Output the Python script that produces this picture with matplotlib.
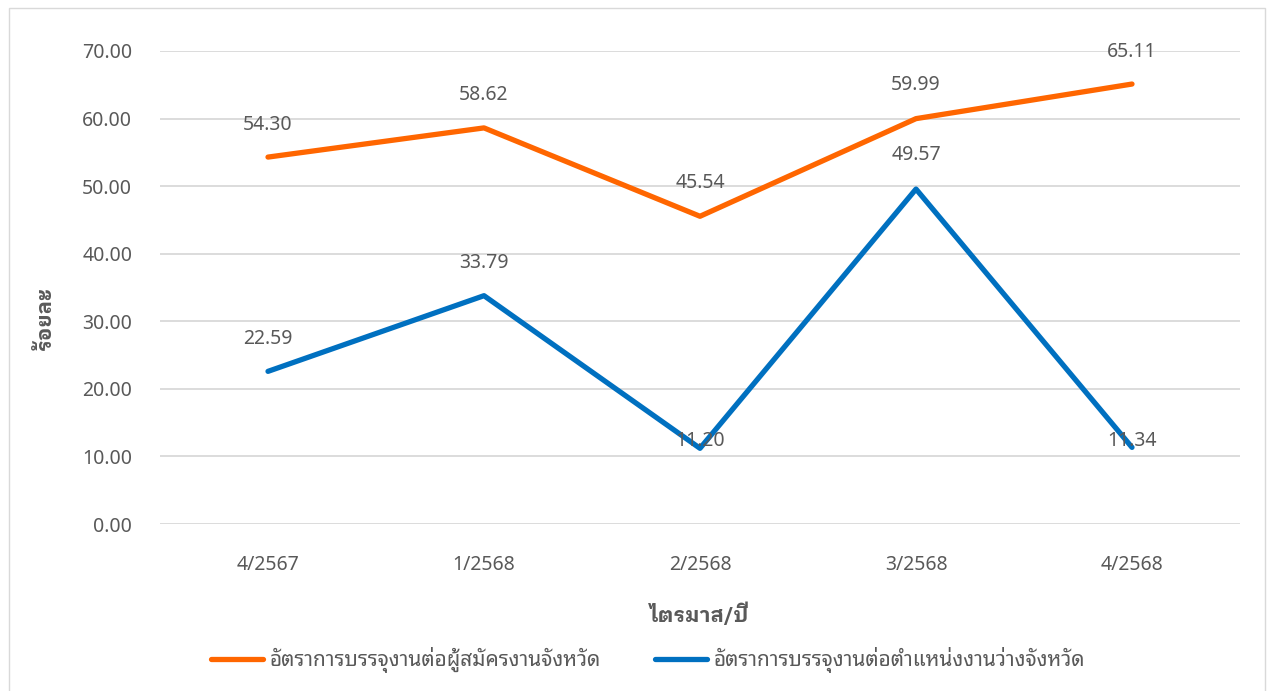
import matplotlib
matplotlib.use('Agg')
import matplotlib.pyplot as plt
from matplotlib import font_manager as fm
from matplotlib.patches import Rectangle

# data
quarters = ['4/2567', '1/2568', '2/2568', '3/2568', '4/2568']
rate_applicants = [54.30, 58.62, 45.54, 59.99, 65.11]
rate_vacancies = [22.59, 33.79, 11.20, 49.57, 11.34]
label_applicants = 'อัตราการบรรจุงานต่อผู้สมัครงานจังหวัด'
label_vacancies = 'อัตราการบรรจุงานต่อตำแหน่งงานว่างจังหวัด'

# pick thai fonts that are actually installed (regular + one with a bold face)
cands = ['Noto Sans Thai Looped', 'IBM Plex Sans Thai Looped', 'Noto Sans Thai',
         'Sarabun', 'Bai Jamjuree', 'Athiti']
fonts = fm.fontManager.ttflist
have = set(f.name for f in fonts)
thai = next((c for c in cands if c in have), 'DejaVu Sans')
thai_bold = next((c for c in cands
                  if any(f.name == c and f.weight in (600, 700, 'bold', 'semibold')
                         for f in fonts)), thai)
plt.rcParams['font.family'] = [thai, 'Noto Sans', 'DejaVu Sans']

grey = '#595959'
orange = '#FF6600'
blue = '#0070C0'

fig = plt.figure(figsize=(12.74, 6.91), dpi=100)
fig.patches.append(Rectangle((9/1274, -0.01), 1256/1274, 1 - 8/691 + 0.01,
                             transform=fig.transFigure, fill=False,
                             edgecolor='#D9D9D9', linewidth=1))
ax = fig.add_axes([160/1274, 1 - 524/691, 1080/1274, 473/691])

x = list(range(len(quarters)))
ax.plot(x, rate_applicants, color=orange, linewidth=3.8, solid_capstyle='round',
        label=label_applicants)
ax.plot(x, rate_vacancies, color=blue, linewidth=3.8, solid_capstyle='round',
        label=label_vacancies)

# label offsets in pixels above the point
off_a = [32, 33, 33, 34, 32]
off_v = [32, 33, 7, 34, 6]
for i in x:
    ax.annotate('%.2f' % rate_applicants[i], (i, rate_applicants[i]),
                xytext=(0, off_a[i] * 0.72), textcoords='offset points',
                ha='center', va='center', fontsize=14, color=grey)
    ax.annotate('%.2f' % rate_vacancies[i], (i, rate_vacancies[i]),
                xytext=(0, off_v[i] * 0.72), textcoords='offset points',
                ha='center', va='center', fontsize=14, color=grey)

ax.set_xlim(-0.5, len(quarters) - 0.5)
ax.set_ylim(0, 70)
ax.set_yticks(range(0, 71, 10))
ax.set_yticklabels(['%.2f' % v for v in range(0, 71, 10)])
ax.set_xticks(x)
ax.set_xticklabels(quarters)
ax.tick_params(axis='both', length=0, labelsize=14, labelcolor=grey)
ax.tick_params(axis='y', pad=20)
ax.tick_params(axis='x', pad=22)
ax.grid(axis='y', color='#D9D9D9', linewidth=1.3)
ax.set_axisbelow(True)
for s in ax.spines.values():
    s.set_visible(False)

ax.set_xlabel('ไตรมาส/ปี', fontsize=15, fontweight='bold', color=grey, labelpad=20,
              family=[thai_bold, 'DejaVu Sans'])
ax.set_ylabel('ร้อยละ', fontsize=15, fontweight='bold', color=grey,
              family=[thai_bold, 'DejaVu Sans'])
ax.yaxis.set_label_coords(-0.097, 0.435)

leg = fig.legend(loc='center', bbox_to_anchor=(648/1274, 1 - 660/691), ncol=2,
                 frameon=False, fontsize=15, handlelength=2.5, handletextpad=0.3,
                 columnspacing=2.6)
for t in leg.get_texts():
    t.set_color(grey)

fig.savefig('out.png', dpi=100)
